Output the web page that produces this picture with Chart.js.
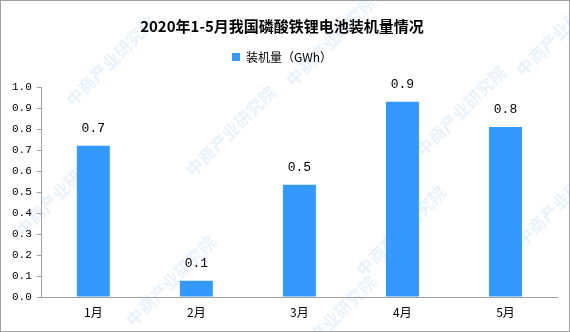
<!DOCTYPE html>
<html>
<head>
<meta charset="utf-8">
<script src="https://cdn.jsdelivr.net/npm/chart.js@4.4.0/dist/chart.umd.min.js"></script>
<style>
    html, body { margin: 0; padding: 0; background: #fff; }
    #box { width: 568px; height: 330px; border: 1px solid #a0a0a0; position: relative; }
    canvas { display: block; }
</style>
</head>
<body>
<div id="box"><canvas id="lfpChart" width="568" height="330"></canvas></div>
<script>
// 数据
const months = ['1月', '2月', '3月', '4月', '5月'];
const installed = [0.72, 0.077, 0.535, 0.93, 0.81];
const valueLabels = ['0.7', '0.1', '0.5', '0.9', '0.8'];
const yTicks = [0.0, 0.1, 0.2, 0.3, 0.4, 0.5, 0.6, 0.7, 0.8, 0.9, 1.0];

const monoFont = '"Liberation Mono", "DejaVu Sans Mono", monospace';
const cjkFont = '"Noto Sans CJK SC", sans-serif';

// 水印
const watermarkPlugin = {
    id: 'watermark',
    beforeDraw(chart) {
        const c = chart.ctx;
        c.save();
        c.font = 'bold 17px ' + cjkFont;
        c.fillStyle = 'rgba(120, 175, 225, 0.16)';
        c.textAlign = 'center';
        c.textBaseline = 'middle';
        const spots = [[110, 60], [330, 40], [560, 30], [60, 190], [230, 130], [460, 110], [170, 280], [400, 230], [560, 200], [330, 320]];
        spots.forEach(p => {
            c.save();
            c.translate(p[0], p[1]);
            c.rotate(-Math.PI / 4);
            c.fillText('中商产业研究院', 0, 0);
            c.restore();
        });
        c.restore();
    }
};

// 图例下方留白
const legendGap = {
    id: 'legendGap',
    beforeInit(chart) {
        const fit = chart.legend.fit;
        chart.legend.fit = function () {
            fit.bind(chart.legend)();
            this.height += 14;
        };
    }
};

// 柱顶数值
const barLabelPlugin = {
    id: 'barLabels',
    afterDatasetsDraw(chart) {
        const c = chart.ctx;
        const meta = chart.getDatasetMeta(0);
        c.save();
        c.font = '13px ' + monoFont;
        c.fillStyle = '#000';
        c.textAlign = 'center';
        c.textBaseline = 'middle';
        meta.data.forEach((bar, i) => {
            c.fillText(valueLabels[i], bar.x, bar.y - 17);
        });
        c.restore();
    }
};

new Chart(document.getElementById('lfpChart').getContext('2d'), {
    type: 'bar',
    data: {
        labels: months,
        datasets: [{
            label: '装机量（GWh）',
            data: installed,
            backgroundColor: '#3399ff',
            borderWidth: 0,
            barPercentage: 0.32,
            categoryPercentage: 1.0
        }]
    },
    options: {
        responsive: false,
        animation: false,
        layout: { padding: { left: 6, right: 12, top: 12, bottom: 0 } },
        plugins: {
            title: {
                display: true,
                text: '2020年1-5月我国磷酸铁锂电池装机量情况',
                color: '#000',
                font: { family: cjkFont, size: 15, weight: 'bold' },
                padding: { top: 4, bottom: 6 }
            },
            legend: {
                labels: {
                    color: '#000',
                    boxWidth: 8,
                    boxHeight: 8,
                    font: { family: cjkFont, size: 12 },
                    padding: 10
                }
            },
            tooltip: { enabled: false }
        },
        scales: {
            y: {
                min: 0,
                max: 1.0,
                afterBuildTicks(scale) {
                    scale.ticks = yTicks.map(v => ({ value: v }));
                },
                border: { color: '#a0a0a0', width: 1 },
                grid: { drawOnChartArea: false, tickLength: 5, color: '#a0a0a0' },
                ticks: {
                    color: '#000',
                    padding: 5,
                    font: { family: monoFont, size: 11 },
                    callback: v => v.toFixed(1)
                }
            },
            x: {
                afterFit(scale) {
                    scale.height = 34;
                },
                border: { color: '#a0a0a0', width: 1 },
                grid: { display: false },
                ticks: {
                    color: '#000',
                    padding: 0,
                    font: { family: cjkFont, size: 12 }
                }
            }
        }
    },
    plugins: [watermarkPlugin, legendGap, barLabelPlugin]
});
</script>
</body>
</html>
